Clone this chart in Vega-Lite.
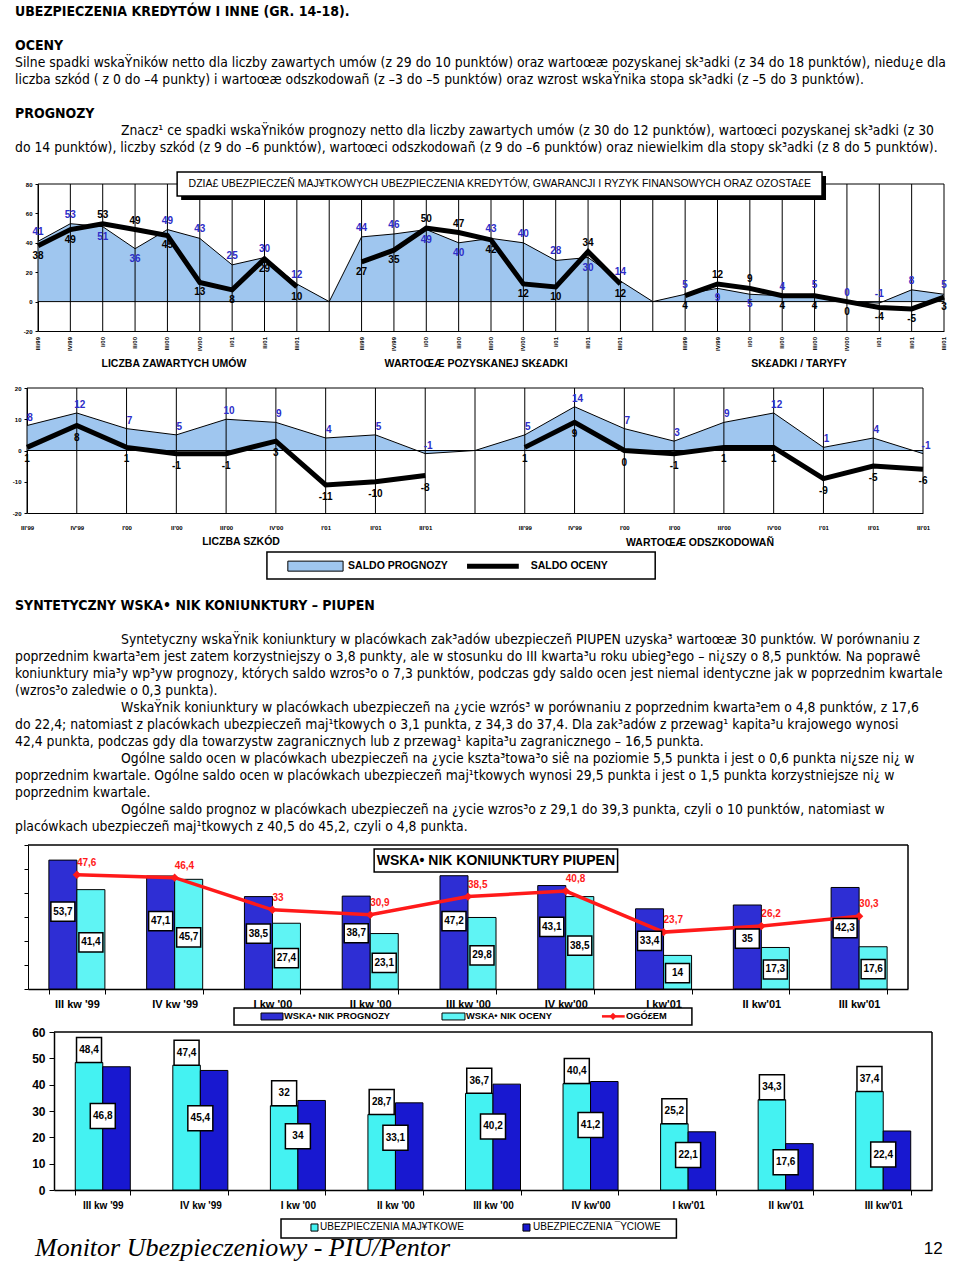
{
"$schema": "https://vega.github.io/schema/vega-lite/v6.json",
"width": 960, "height": 1266,
"autosize": {"type": "none"},
"padding": 0,
"background": "white",
"config": {
  "view": {"stroke": null},
  "font": "Liberation Sans",
  "locale": {"number": {"decimal": ",", "thousands": " ", "grouping": [3], "currency": ["", ""], "minus": "-"}},
  "axis": {"grid": false, "domainColor": "black", "tickColor": "black", "labelColor": "black", "labelFont": "Liberation Sans", "labelOverlap": false}
},
"datasets": {
  "txt": [
    {"ln":0,"ind":0,"b":true,"t":"UBEZPIECZENIA KREDYTÓW I INNE (GR. 14-18)."},
    {"ln":2,"ind":0,"b":true,"t":"OCENY"},
    {"ln":3,"ind":0,"b":false,"t":"Silne spadki wskaŸników netto dla liczby zawartych umów (z 29 do 10 punktów) oraz wartoœæ pozyskanej sk³adki (z 34 do 18 punktów), niedu¿e dla"},
    {"ln":4,"ind":0,"b":false,"t":"liczba szkód ( z 0 do –4 punkty) i wartoœæ odszkodowañ (z –3 do –5 punktów) oraz wzrost wskaŸnika stopa sk³adki (z –5 do 3 punktów)."},
    {"ln":6,"ind":0,"b":true,"t":"PROGNOZY"},
    {"ln":7,"ind":1,"b":false,"t":"Znacz¹ ce spadki wskaŸników prognozy netto dla liczby zawartych umów (z 30 do 12 punktów), wartoœci pozyskanej sk³adki (z 30"},
    {"ln":8,"ind":0,"b":false,"t":"do 14 punktów), liczby szkód (z 9 do –6 punktów), wartoœci odszkodowañ (z 9 do –6 punktów) oraz niewielkim dla stopy sk³adki (z 8 do 5 punktów)."},
    {"ln":35,"ind":0,"b":true,"t":"SYNTETYCZNY WSKA• NIK KONIUNKTURY – PIUPEN"},
    {"ln":37,"ind":1,"b":false,"t":"Syntetyczny wskaŸnik koniunktury w placówkach zak³adów ubezpieczeñ PIUPEN uzyska³ wartoœæ 30 punktów. W porównaniu z"},
    {"ln":38,"ind":0,"b":false,"t":"poprzednim kwarta³em jest zatem korzystniejszy o 3,8 punkty, ale w stosunku do III kwarta³u roku ubieg³ego – ni¿szy o 8,5 punktów. Na poprawê"},
    {"ln":39,"ind":0,"b":false,"t":"koniunktury mia³y wp³yw prognozy, których saldo wzros³o o 7,3 punktów, podczas gdy saldo ocen jest niemal identyczne jak w poprzednim kwartale"},
    {"ln":40,"ind":0,"b":false,"t":"(wzros³o zaledwie o 0,3 punkta)."},
    {"ln":41,"ind":1,"b":false,"t":"WskaŸnik koniunktury w placówkach ubezpieczeñ na ¿ycie wzrós³ w porównaniu z poprzednim kwarta³em o 4,8 punktów, z 17,6"},
    {"ln":42,"ind":0,"b":false,"t":"do 22,4; natomiast z placówkach ubezpieczeñ maj¹tkowych o 3,1 punkta, z 34,3 do 37,4. Dla zak³adów z przewag¹ kapita³u krajowego wynosi"},
    {"ln":43,"ind":0,"b":false,"t":"42,4 punkta, podczas gdy dla towarzystw zagranicznych lub z przewag¹ kapita³u zagranicznego – 16,5 punkta."},
    {"ln":44,"ind":1,"b":false,"t":"Ogólne saldo ocen w placówkach ubezpieczeñ na ¿ycie kszta³towa³o siê na poziomie 5,5 punkta i jest o 0,6 punkta ni¿sze ni¿ w"},
    {"ln":45,"ind":0,"b":false,"t":"poprzednim kwartale. Ogólne saldo ocen w placówkach ubezpieczeñ maj¹tkowych wynosi 29,5 punkta i jest o 1,5 punkta korzystniejsze ni¿ w"},
    {"ln":46,"ind":0,"b":false,"t":"poprzednim kwartale."},
    {"ln":47,"ind":1,"b":false,"t":"Ogólne saldo prognoz w placówkach ubezpieczeñ na ¿ycie wzros³o z 29,1 do 39,3 punkta, czyli o 10 punktów, natomiast w"},
    {"ln":48,"ind":0,"b":false,"t":"placówkach ubezpieczeñ maj¹tkowych z 40,5 do 45,2, czyli o 4,8 punkta."}
  ],
  "c1": [
    {"i":0,"g":1,"q":"III/99","p":41,"o":38},{"i":1,"g":1,"q":"IV/99","p":53,"o":49},{"i":2,"g":1,"q":"I/00","p":51,"o":53},{"i":3,"g":1,"q":"II/00","p":36,"o":49},{"i":4,"g":1,"q":"III/00","p":49,"o":45},{"i":5,"g":1,"q":"IV/00","p":43,"o":13},{"i":6,"g":1,"q":"I/01","p":25,"o":8},{"i":7,"g":1,"q":"II/01","p":30,"o":29},{"i":8,"g":1,"q":"III/01","p":12,"o":10},
    {"i":9,"g":0,"q":"","p":0,"o":null},
    {"i":10,"g":2,"q":"III/99","p":44,"o":27},{"i":11,"g":2,"q":"IV/99","p":46,"o":35},{"i":12,"g":2,"q":"I/00","p":49,"o":50},{"i":13,"g":2,"q":"II/00","p":40,"o":47},{"i":14,"g":2,"q":"III/00","p":43,"o":42},{"i":15,"g":2,"q":"IV/00","p":40,"o":12},{"i":16,"g":2,"q":"I/01","p":28,"o":10},{"i":17,"g":2,"q":"II/01","p":30,"o":34},{"i":18,"g":2,"q":"III/01","p":14,"o":12},
    {"i":19,"g":0,"q":"","p":0,"o":null},
    {"i":20,"g":3,"q":"III/99","p":5,"o":4},{"i":21,"g":3,"q":"IV/99","p":9,"o":12},{"i":22,"g":3,"q":"I/00","p":5,"o":9},{"i":23,"g":3,"q":"II/00","p":4,"o":4},{"i":24,"g":3,"q":"III/00","p":5,"o":4},{"i":25,"g":3,"q":"IV/00","p":0,"o":0},{"i":26,"g":3,"q":"I/01","p":-1,"o":-4},{"i":27,"g":3,"q":"II/01","p":8,"o":-5},{"i":28,"g":3,"q":"III/01","p":5,"o":3}
  ],
  "c2": [
    {"i":0,"g":1,"p":8,"o":1},{"i":1,"g":1,"p":12,"o":8},{"i":2,"g":1,"p":7,"o":1},{"i":3,"g":1,"p":5,"o":-1},{"i":4,"g":1,"p":10,"o":-1},{"i":5,"g":1,"p":9,"o":3},{"i":6,"g":1,"p":4,"o":-11},{"i":7,"g":1,"p":5,"o":-10},{"i":8,"g":1,"p":-1,"o":-8},
    {"i":9,"g":0,"p":0,"o":null},
    {"i":10,"g":2,"p":5,"o":1},{"i":11,"g":2,"p":14,"o":9},{"i":12,"g":2,"p":7,"o":0},{"i":13,"g":2,"p":3,"o":-1},{"i":14,"g":2,"p":9,"o":1},{"i":15,"g":2,"p":12,"o":1},{"i":16,"g":2,"p":1,"o":-9},{"i":17,"g":2,"p":4,"o":-5},{"i":18,"g":2,"p":-1,"o":-6}
  ],
  "k3": [
    {"q":"III kw '99","s":"prog","v":53.7},{"q":"III kw '99","s":"ocena","v":41.4},
    {"q":"IV kw '99","s":"prog","v":47.1},{"q":"IV kw '99","s":"ocena","v":45.7},
    {"q":"I kw '00","s":"prog","v":38.5},{"q":"I kw '00","s":"ocena","v":27.4},
    {"q":"II kw '00","s":"prog","v":38.7},{"q":"II kw '00","s":"ocena","v":23.1},
    {"q":"III kw '00","s":"prog","v":47.2},{"q":"III kw '00","s":"ocena","v":29.8},
    {"q":"IV kw'00","s":"prog","v":43.1},{"q":"IV kw'00","s":"ocena","v":38.5},
    {"q":"I kw'01","s":"prog","v":33.4},{"q":"I kw'01","s":"ocena","v":14},
    {"q":"II kw'01","s":"prog","v":35},{"q":"II kw'01","s":"ocena","v":17.3},
    {"q":"III kw'01","s":"prog","v":42.3},{"q":"III kw'01","s":"ocena","v":17.6}
  ],
  "k3line": [
    {"q":"III kw '99","v":47.6},{"q":"IV kw '99","v":46.4},{"q":"I kw '00","v":33},{"q":"II kw '00","v":30.9},{"q":"III kw '00","v":38.5},{"q":"IV kw'00","v":40.8},{"q":"I kw'01","v":23.7},{"q":"II kw'01","v":26.2},{"q":"III kw'01","v":30.3}
  ],
  "k4": [
    {"q":"III kw '99","s":"maj","v":48.4},{"q":"III kw '99","s":"zyc","v":46.8},
    {"q":"IV kw '99","s":"maj","v":47.4},{"q":"IV kw '99","s":"zyc","v":45.4},
    {"q":"I kw '00","s":"maj","v":32},{"q":"I kw '00","s":"zyc","v":34},
    {"q":"II kw '00","s":"maj","v":28.7},{"q":"II kw '00","s":"zyc","v":33.1},
    {"q":"III kw '00","s":"maj","v":36.7},{"q":"III kw '00","s":"zyc","v":40.2},
    {"q":"IV kw'00","s":"maj","v":40.4},{"q":"IV kw'00","s":"zyc","v":41.2},
    {"q":"I kw'01","s":"maj","v":25.2},{"q":"I kw'01","s":"zyc","v":22.1},
    {"q":"II kw'01","s":"maj","v":34.3},{"q":"II kw'01","s":"zyc","v":17.6},
    {"q":"III kw'01","s":"maj","v":37.4},{"q":"III kw'01","s":"zyc","v":22.4}
  ]
},
"layer": [
  {
    "data": {"name": "txt"},
    "encoding": {
      "x": {"field": "ind", "type": "quantitative", "scale": {"domain": [0, 1], "range": [15, 121]}, "axis": null},
      "y": {"field": "ln", "type": "quantitative", "scale": {"domain": [0, 48], "range": [12, 827]}, "axis": null},
      "text": {"field": "t"}
    },
    "layer": [
      {"transform": [{"filter": "datum.b"}], "mark": {"type": "text", "align": "left", "baseline": "middle", "font": "Liberation Sans Narrow, DejaVu Sans Condensed", "fontWeight": "bold", "fontSize": 14}},
      {"transform": [{"filter": "!datum.b"}], "mark": {"type": "text", "align": "left", "baseline": "middle", "font": "Liberation Sans Narrow, DejaVu Sans Condensed", "fontSize": 13.8}}
    ]
  },
  {
    "data": {"name": "c1"},
    "layer": [
      {
        "mark": {"type": "area", "color": "#9fc6ef", "opacity": 1, "line": {"color": "black", "strokeWidth": 1}},
        "encoding": {
          "x": {"field": "i", "type": "quantitative", "scale": {"domain": [0, 28], "range": [38, 944]},
                "axis": {"orient": "bottom", "offset": -935, "labels": false, "ticks": false, "title": null}},
          "y": {"field": "p", "type": "quantitative", "stack": null, "scale": {"domain": [-20, 80], "range": [331, 184], "nice": false, "zero": false},
                "axis": {"orient": "left", "offset": -38, "values": [-20, 0, 20, 40, 60, 80], "labelFontSize": 6, "labelFontWeight": "bold", "tickSize": 3, "labelPadding": 3, "title": null}},
          "y2": {"datum": 0}
        }
      },
      {
        "mark": {"type": "rule", "color": "black", "strokeWidth": 1},
        "encoding": {"x": {"field": "i", "type": "quantitative"}, "y": {"datum": -20}, "y2": {"datum": 80}}
      },
      {
        "transform": [{"filter": "datum.g > 0"}],
        "mark": {"type": "text", "angle": 270, "align": "right", "baseline": "middle", "fontSize": 6, "fontWeight": "bold", "dx": -6, "color": "black"},
        "encoding": {"x": {"field": "i", "type": "quantitative"}, "y": {"datum": -20}, "text": {"field": "q"}}
      },
      {
        "data": {"values": [{}]},
        "mark": {"type": "rule", "color": "black", "strokeWidth": 1},
        "encoding": {"x": {"datum": 0}, "x2": {"datum": 28}, "y": {"datum": 0}}
      },
      {
        "data": {"values": [{}]},
        "mark": {"type": "rule", "color": "black", "strokeWidth": 1},
        "encoding": {"x": {"datum": 0}, "x2": {"datum": 28}, "y": {"datum": 80}}
      },
      {
        "transform": [{"filter": "datum.g > 0"}],
        "mark": {"type": "line", "color": "black", "strokeWidth": 5},
        "encoding": {"x": {"field": "i", "type": "quantitative"}, "y": {"field": "o", "type": "quantitative"}, "detail": {"field": "g"}}
      },
      {
        "transform": [{"filter": "datum.g > 0 && datum.p >= datum.o"}],
        "mark": {"type": "text", "color": "#2d2dc8", "fontWeight": "bold", "fontSize": 10, "dy": -9},
        "encoding": {"x": {"field": "i", "type": "quantitative"}, "y": {"field": "p", "type": "quantitative"}, "text": {"field": "p", "type": "quantitative", "format": "d"}}
      },
      {
        "transform": [{"filter": "datum.g > 0 && datum.p < datum.o"}],
        "mark": {"type": "text", "color": "#2d2dc8", "fontWeight": "bold", "fontSize": 10, "dy": 10},
        "encoding": {"x": {"field": "i", "type": "quantitative"}, "y": {"field": "p", "type": "quantitative"}, "text": {"field": "p", "type": "quantitative", "format": "d"}}
      },
      {
        "transform": [{"filter": "datum.g > 0 && datum.o > datum.p"}],
        "mark": {"type": "text", "color": "black", "fontWeight": "bold", "fontSize": 10, "dy": -9},
        "encoding": {"x": {"field": "i", "type": "quantitative"}, "y": {"field": "o", "type": "quantitative"}, "text": {"field": "o", "type": "quantitative", "format": "d"}}
      },
      {
        "transform": [{"filter": "datum.g > 0 && datum.o <= datum.p"}],
        "mark": {"type": "text", "color": "black", "fontWeight": "bold", "fontSize": 10, "dy": 10},
        "encoding": {"x": {"field": "i", "type": "quantitative"}, "y": {"field": "o", "type": "quantitative"}, "text": {"field": "o", "type": "quantitative", "format": "d"}}
      },
      {
        "data": {"values": [{}]},
        "mark": {"type": "rect", "color": "black", "xOffset": 4, "x2Offset": 4, "yOffset": 4, "y2Offset": 4},
        "encoding": {"x": {"datum": 4.30}, "x2": {"datum": 24.23}, "y": {"datum": 88.2}, "y2": {"datum": 71.8}}
      },
      {
        "data": {"values": [{}]},
        "mark": {"type": "rect", "fill": "white", "stroke": "black", "strokeWidth": 1.5},
        "encoding": {"x": {"datum": 4.30}, "x2": {"datum": 24.23}, "y": {"datum": 88.2}, "y2": {"datum": 71.8}}
      },
      {
        "data": {"values": [{}]},
        "mark": {"type": "text", "fontSize": 10.5, "align": "center", "baseline": "middle", "color": "black"},
        "encoding": {"x": {"datum": 14.27}, "y": {"datum": 80}, "text": {"value": "DZIA£ UBEZPIECZEÑ MAJ¥TKOWYCH UBEZPIECZENIA KREDYTÓW, GWARANCJI I RYZYK FINANSOWYCH ORAZ OZOSTA£E"}}
      },
      {
        "data": {"values": [{}]},
        "mark": {"type": "text", "fontSize": 10.5, "fontWeight": "bold", "align": "center", "baseline": "middle", "color": "black"},
        "encoding": {"x": {"datum": 4.2}, "y": {"datum": -42.4}, "text": {"value": "LICZBA ZAWARTYCH UMÓW"}}
      },
      {
        "data": {"values": [{}]},
        "mark": {"type": "text", "fontSize": 10.5, "fontWeight": "bold", "align": "center", "baseline": "middle", "color": "black"},
        "encoding": {"x": {"datum": 13.54}, "y": {"datum": -42.4}, "text": {"value": "WARTOŒÆ POZYSKANEJ SK£ADKI"}}
      },
      {
        "data": {"values": [{}]},
        "mark": {"type": "text", "fontSize": 10.5, "fontWeight": "bold", "align": "center", "baseline": "middle", "color": "black"},
        "encoding": {"x": {"datum": 23.52}, "y": {"datum": -42.4}, "text": {"value": "SK£ADKI / TARYFY"}}
      }
    ]
  },
  {
    "data": {"name": "c2"},
    "layer": [
      {
        "mark": {"type": "area", "color": "#9fc6ef", "opacity": 1, "line": {"color": "black", "strokeWidth": 1}},
        "encoding": {
          "x": {"field": "i", "type": "quantitative", "scale": {"domain": [0, 18], "range": [27, 923]},
                "axis": {"orient": "bottom", "offset": -753, "values": [0,1,2,3,4,5,6,7,8,10,11,12,13,14,15,16,17,18],
                         "labelExpr": "[\"III'99\",\"IV'99\",\"I'00\",\"II'00\",\"III'00\",\"IV'00\",\"I'01\",\"II'01\",\"III'01\"][datum.value % 10]",
                         "labelAngle": 0, "labelFontSize": 6, "labelFontWeight": "bold", "ticks": false, "labelPadding": 11, "title": null, "labelFlush": false, "labelOverlap": false}},
          "y": {"field": "p", "type": "quantitative", "stack": null, "scale": {"domain": [-20, 20], "range": [513, 388], "nice": false, "zero": false},
                "axis": {"orient": "left", "offset": -27, "values": [-20, -10, 0, 10, 20], "labelFontSize": 6, "labelFontWeight": "bold", "tickSize": 3, "labelPadding": 3, "title": null}},
          "y2": {"datum": 0}
        }
      },
      {
        "mark": {"type": "rule", "color": "black", "strokeWidth": 1},
        "encoding": {"x": {"field": "i", "type": "quantitative"}, "y": {"datum": -20}, "y2": {"datum": 20}}
      },
      {
        "data": {"values": [{}]},
        "mark": {"type": "rule", "color": "black", "strokeWidth": 1},
        "encoding": {"x": {"datum": 0}, "x2": {"datum": 18}, "y": {"datum": 0}}
      },
      {
        "data": {"values": [{}]},
        "mark": {"type": "rule", "color": "black", "strokeWidth": 1},
        "encoding": {"x": {"datum": 0}, "x2": {"datum": 18}, "y": {"datum": 20}}
      },
      {
        "transform": [{"filter": "datum.g > 0"}],
        "mark": {"type": "line", "color": "black", "strokeWidth": 5},
        "encoding": {"x": {"field": "i", "type": "quantitative"}, "y": {"field": "o", "type": "quantitative"}, "detail": {"field": "g"}}
      },
      {
        "transform": [{"filter": "datum.g > 0"}],
        "mark": {"type": "text", "color": "#2d2dc8", "fontWeight": "bold", "fontSize": 10, "dy": -8, "dx": 3},
        "encoding": {"x": {"field": "i", "type": "quantitative"}, "y": {"field": "p", "type": "quantitative"}, "text": {"field": "p", "type": "quantitative", "format": "d"}}
      },
      {
        "transform": [{"filter": "datum.g > 0"}],
        "mark": {"type": "text", "color": "black", "fontWeight": "bold", "fontSize": 10, "dy": 12},
        "encoding": {"x": {"field": "i", "type": "quantitative"}, "y": {"field": "o", "type": "quantitative"}, "text": {"field": "o", "type": "quantitative", "format": "d"}}
      },
      {
        "data": {"values": [{}]},
        "mark": {"type": "text", "fontSize": 10.5, "fontWeight": "bold", "align": "center", "baseline": "middle", "color": "black"},
        "encoding": {"x": {"datum": 4.3}, "y": {"datum": -29.3}, "text": {"value": "LICZBA SZKÓD"}}
      },
      {
        "data": {"values": [{}]},
        "mark": {"type": "text", "fontSize": 10.5, "fontWeight": "bold", "align": "center", "baseline": "middle", "color": "black"},
        "encoding": {"x": {"datum": 13.52}, "y": {"datum": -29.6}, "text": {"value": "WARTOŒÆ ODSZKODOWAÑ"}}
      },
      {
        "data": {"values": [{}]},
        "mark": {"type": "rect", "fill": "white", "stroke": "black", "strokeWidth": 1.5},
        "encoding": {"x": {"datum": 4.82}, "x2": {"datum": 12.62}, "y": {"datum": -32.5}, "y2": {"datum": -41.1}}
      },
      {
        "data": {"values": [{}]},
        "mark": {"type": "rect", "fill": "#9fc6ef", "stroke": "black", "strokeWidth": 1},
        "encoding": {"x": {"datum": 5.24}, "x2": {"datum": 6.35}, "y": {"datum": -35.4}, "y2": {"datum": -38.6}}
      },
      {
        "data": {"values": [{}]},
        "mark": {"type": "rule", "color": "black", "strokeWidth": 5},
        "encoding": {"x": {"datum": 8.84}, "x2": {"datum": 9.88}, "y": {"datum": -37}}
      },
      {
        "data": {"values": [{}]},
        "mark": {"type": "text", "fontSize": 10.5, "fontWeight": "bold", "align": "left", "baseline": "middle", "color": "black"},
        "encoding": {"x": {"datum": 6.45}, "y": {"datum": -37}, "text": {"value": "SALDO PROGNOZY"}}
      },
      {
        "data": {"values": [{}]},
        "mark": {"type": "text", "fontSize": 10.5, "fontWeight": "bold", "align": "left", "baseline": "middle", "color": "black"},
        "encoding": {"x": {"datum": 10.12}, "y": {"datum": -37}, "text": {"value": "SALDO OCENY"}}
      }
    ]
  },
  {
    "layer": [
      {
        "data": {"name": "k3"},
        "mark": {"type": "bar", "stroke": "black", "strokeWidth": 1},
        "encoding": {
          "x": {"field": "q", "type": "nominal", "sort": null,
                "scale": {"domain": ["III kw '99","IV kw '99","I kw '00","II kw '00","III kw '00","IV kw'00","I kw'01","II kw'01","III kw'01"], "range": [28, 908], "paddingInner": 0.427, "paddingOuter": 0.2135},
                "axis": {"orient": "bottom", "offset": -277, "labelFontSize": 11, "labelFontWeight": "bold", "tickBand": "extent", "tickSize": 5, "labelPadding": 4, "labelAngle": 0, "title": null, "domainWidth": 1.5}},
          "xOffset": {"field": "s", "type": "nominal", "scale": {"domain": ["prog", "ocena"]}},
          "y": {"field": "v", "type": "quantitative", "scale": {"domain": [0, 60], "range": [989, 845], "nice": false},
                "axis": {"orient": "left", "offset": -28, "values": [0, 10, 20, 30, 40, 50, 60], "labels": false, "tickSize": 4, "title": null}},
          "color": {"field": "s", "type": "nominal", "scale": {"domain": ["prog", "ocena"], "range": ["#2e2ed4", "#5ff4f4"]}, "legend": null}
        }
      },
      {
        "data": {"name": "k3line"},
        "mark": {"type": "line", "color": "#ff1a1a", "strokeWidth": 3.5, "point": {"shape": "diamond", "size": 70, "color": "#ff1a1a", "filled": true}},
        "encoding": {"x": {"field": "q", "type": "nominal", "sort": null}, "y": {"field": "v", "type": "quantitative"}}
      },
      {
        "data": {"name": "k3line"},
        "mark": {"type": "text", "color": "#ff1a1a", "fontWeight": "bold", "fontSize": 10, "align": "left", "dy": -12},
        "encoding": {"x": {"field": "q", "type": "nominal", "sort": null}, "y": {"field": "v", "type": "quantitative"}, "text": {"field": "v", "type": "quantitative", "format": ".1~f"}}
      }
    ]
  },
  {
    "data": {"values": [{}]},
    "layer": [
      {
        "mark": {"type": "rule", "color": "black", "strokeWidth": 1.5},
        "encoding": {"x": {"datum": 0, "scale": {"domain": [0, 9], "range": [28, 908]}, "axis": null}, "x2": {"datum": 9}, "y": {"datum": 60, "scale": {"domain": [0, 60], "range": [989, 845]}, "axis": null}}
      },
      {
        "mark": {"type": "rule", "color": "black", "strokeWidth": 1.5},
        "encoding": {"x": {"datum": 9, "axis": null}, "y": {"datum": 0, "axis": null}, "y2": {"datum": 60}}
      },
      {
        "mark": {"type": "rect", "fill": "white", "stroke": "black", "strokeWidth": 1.5},
        "encoding": {"x": {"datum": 3.54, "axis": null}, "x2": {"datum": 6.03}, "y": {"datum": 58.3, "axis": null}, "y2": {"datum": 48.75}}
      },
      {
        "mark": {"type": "text", "fontSize": 14, "fontWeight": "bold", "align": "center", "baseline": "middle", "color": "black"},
        "encoding": {"x": {"datum": 4.785, "axis": null}, "y": {"datum": 53.5, "axis": null}, "text": {"value": "WSKA• NIK KONIUNKTURY PIUPEN"}}
      },
      {
        "mark": {"type": "rect", "fill": "white", "stroke": "black", "strokeWidth": 1.5},
        "encoding": {"x": {"datum": 2.107, "axis": null}, "x2": {"datum": 6.79}, "y": {"datum": -7.92, "axis": null}, "y2": {"datum": -15}}
      },
      {
        "mark": {"type": "rect", "fill": "#2e2ed4", "stroke": "black", "strokeWidth": 1},
        "encoding": {"x": {"datum": 2.383, "axis": null}, "x2": {"datum": 2.608}, "y": {"datum": -10, "axis": null}, "y2": {"datum": -12.9}}
      },
      {
        "mark": {"type": "text", "fontSize": 9.3, "fontWeight": "bold", "align": "left", "baseline": "middle", "color": "black"},
        "encoding": {"x": {"datum": 2.618, "axis": null}, "y": {"datum": -11.4, "axis": null}, "text": {"value": "WSKA• NIK PROGNOZY"}}
      },
      {
        "mark": {"type": "rect", "fill": "#5ff4f4", "stroke": "black", "strokeWidth": 1},
        "encoding": {"x": {"datum": 4.234, "axis": null}, "x2": {"datum": 4.469}, "y": {"datum": -10, "axis": null}, "y2": {"datum": -12.9}}
      },
      {
        "mark": {"type": "text", "fontSize": 9.3, "fontWeight": "bold", "align": "left", "baseline": "middle", "color": "black"},
        "encoding": {"x": {"datum": 4.479, "axis": null}, "y": {"datum": -11.4, "axis": null}, "text": {"value": "WSKA• NIK OCENY"}}
      },
      {
        "mark": {"type": "rule", "color": "#ff1a1a", "strokeWidth": 2.5},
        "encoding": {"x": {"datum": 5.87, "axis": null}, "x2": {"datum": 6.103}, "y": {"datum": -11.4, "axis": null}}
      },
      {
        "mark": {"type": "point", "shape": "diamond", "size": 50, "filled": true, "color": "#ff1a1a", "opacity": 1},
        "encoding": {"x": {"datum": 5.983, "axis": null}, "y": {"datum": -11.4, "axis": null}}
      },
      {
        "mark": {"type": "text", "fontSize": 9.3, "fontWeight": "bold", "align": "left", "baseline": "middle", "color": "black"},
        "encoding": {"x": {"datum": 6.116, "axis": null}, "y": {"datum": -11.4, "axis": null}, "text": {"value": "OGÓ£EM"}}
      }
    ]
  },
  {
    "data": {"name": "k3"},
    "transform": [{"filter": "datum.s == 'prog'"}],
    "encoding": {
      "x": {"field": "q", "type": "nominal", "sort": null, "scale": {"domain": ["III kw '99","IV kw '99","I kw '00","II kw '00","III kw '00","IV kw'00","I kw'01","II kw'01","III kw'01"], "range": [28, 908], "paddingInner": 0.427, "paddingOuter": 0.2135}, "axis": null},
      "xOffset": {"field": "s", "type": "nominal", "scale": {"domain": ["prog", "ocena"]}},
      "y": {"field": "v", "type": "quantitative", "scale": {"domain": [0, 100], "range": [989, 845], "nice": false, "zero": false}, "axis": null}
    },
    "layer": [
      {"mark": {"type": "point", "shape": "M-1,-0.8H1V0.8H-1Z", "size": 576, "filled": true, "fill": "white", "color": "white", "stroke": "black", "strokeWidth": 1.5, "opacity": 1, "fillOpacity": 1}},
      {"mark": {"type": "text", "fontWeight": "bold", "fontSize": 10, "baseline": "middle", "color": "black"}, "encoding": {"text": {"field": "v", "type": "quantitative", "format": ".1~f"}}}
    ]
  },
  {
    "data": {"name": "k3"},
    "transform": [{"filter": "datum.s == 'ocena'"}],
    "encoding": {
      "x": {"field": "q", "type": "nominal", "sort": null, "scale": {"domain": ["III kw '99","IV kw '99","I kw '00","II kw '00","III kw '00","IV kw'00","I kw'01","II kw'01","III kw'01"], "range": [28, 908], "paddingInner": 0.427, "paddingOuter": 0.2135}, "axis": null},
      "xOffset": {"field": "s", "type": "nominal", "scale": {"domain": ["prog", "ocena"]}},
      "y": {"field": "v", "type": "quantitative", "scale": {"domain": [0, 127.7], "range": [989, 845], "nice": false, "zero": false}, "axis": null}
    },
    "layer": [
      {"mark": {"type": "point", "shape": "M-1,-0.8H1V0.8H-1Z", "size": 576, "filled": true, "fill": "white", "color": "white", "stroke": "black", "strokeWidth": 1.5, "opacity": 1, "fillOpacity": 1}},
      {"mark": {"type": "text", "fontWeight": "bold", "fontSize": 10, "baseline": "middle", "color": "black"}, "encoding": {"text": {"field": "v", "type": "quantitative", "format": ".1~f"}}}
    ]
  },
  {
    "data": {"name": "k4"},
    "layer": [
      {
        "mark": {"type": "bar", "stroke": "black", "strokeWidth": 1},
        "encoding": {
          "x": {"field": "q", "type": "nominal", "sort": null,
                "scale": {"domain": ["III kw '99","IV kw '99","I kw '00","II kw '00","III kw '00","IV kw'00","I kw'01","II kw'01","III kw'01"], "range": [54, 932], "paddingInner": 0.436, "paddingOuter": 0.218},
                "axis": {"orient": "bottom", "offset": -76, "labelFontSize": 10, "labelFontWeight": "bold", "tickBand": "extent", "tickSize": 5, "labelPadding": 5, "labelAngle": 0, "title": null, "domainWidth": 1.5}},
          "xOffset": {"field": "s", "type": "nominal", "scale": {"domain": ["maj", "zyc"]}},
          "y": {"field": "v", "type": "quantitative", "scale": {"domain": [0, 60], "range": [1190, 1032], "nice": false},
                "axis": {"orient": "left", "offset": -54, "values": [0, 10, 20, 30, 40, 50, 60], "labelFontSize": 12, "labelFontWeight": "bold", "tickSize": 5, "labelPadding": 4, "title": null, "domainWidth": 1.5}},
          "color": {"field": "s", "type": "nominal", "scale": {"domain": ["maj", "zyc"], "range": ["#44f2f2", "#1818d0"]}, "legend": null}
        }
      },
      {
        "transform": [{"filter": "datum.s == 'maj'"}],
        "mark": {"type": "point", "shape": "square", "size": 625, "yOffset": -12.5, "filled": true, "fill": "white", "color": "white", "stroke": "black", "strokeWidth": 1.5, "opacity": 1, "fillOpacity": 1},
        "encoding": {"x": {"field": "q", "type": "nominal", "sort": null}, "xOffset": {"field": "s", "type": "nominal"}, "y": {"field": "v", "type": "quantitative"}}
      },
      {
        "transform": [{"filter": "datum.s == 'maj'"}],
        "mark": {"type": "text", "fontWeight": "bold", "fontSize": 10, "baseline": "middle", "dy": -12.5, "color": "black"},
        "encoding": {"x": {"field": "q", "type": "nominal", "sort": null}, "xOffset": {"field": "s", "type": "nominal"}, "y": {"field": "v", "type": "quantitative"}, "text": {"field": "v", "type": "quantitative", "format": ".1~f"}}
      }
    ]
  },
  {
    "data": {"name": "k4"},
    "transform": [{"filter": "datum.s == 'zyc'"}],
    "encoding": {
      "x": {"field": "q", "type": "nominal", "sort": null, "bandPosition": 0.95, "scale": {"domain": ["III kw '99","IV kw '99","I kw '00","II kw '00","III kw '00","IV kw'00","I kw'01","II kw'01","III kw'01"], "range": [54, 932], "paddingInner": 0.436, "paddingOuter": 0.218}, "axis": null},
      "y": {"field": "v", "type": "quantitative", "scale": {"domain": [0, 100], "range": [1190, 1032], "nice": false, "zero": false}, "axis": null}
    },
    "layer": [
      {"mark": {"type": "point", "shape": "square", "size": 625, "filled": true, "fill": "white", "color": "white", "stroke": "black", "strokeWidth": 1.5, "opacity": 1, "fillOpacity": 1}},
      {"mark": {"type": "text", "fontWeight": "bold", "fontSize": 10, "baseline": "middle", "color": "black"}, "encoding": {"text": {"field": "v", "type": "quantitative", "format": ".1~f"}}}
    ]
  },
  {
    "data": {"values": [{}]},
    "layer": [
      {
        "mark": {"type": "rule", "color": "black", "strokeWidth": 1.5},
        "encoding": {"x": {"datum": 0, "scale": {"domain": [0, 9], "range": [54, 932]}, "axis": null}, "x2": {"datum": 9}, "y": {"datum": 60, "scale": {"domain": [0, 60], "range": [1190, 1032]}, "axis": null}}
      },
      {
        "mark": {"type": "rule", "color": "black", "strokeWidth": 1.5},
        "encoding": {"x": {"datum": 9, "axis": null}, "y": {"datum": 0, "axis": null}, "y2": {"datum": 60}}
      },
      {
        "mark": {"type": "rect", "fill": "white", "stroke": "black", "strokeWidth": 1.5},
        "encoding": {"x": {"datum": 2.327, "axis": null}, "x2": {"datum": 6.38}, "y": {"datum": -11.0, "axis": null}, "y2": {"datum": -18.2}}
      },
      {
        "mark": {"type": "rect", "fill": "#44f2f2", "stroke": "black", "strokeWidth": 1},
        "encoding": {"x": {"datum": 2.634, "axis": null}, "x2": {"datum": 2.706}, "y": {"datum": -12.9, "axis": null}, "y2": {"datum": -15.6}}
      },
      {
        "mark": {"type": "text", "fontSize": 10, "align": "left", "baseline": "middle", "color": "black"},
        "encoding": {"x": {"datum": 2.727, "axis": null}, "y": {"datum": -14.1, "axis": null}, "text": {"value": "UBEZPIECZENIA MAJ¥TKOWE"}}
      },
      {
        "mark": {"type": "rect", "fill": "#1818d0", "stroke": "black", "strokeWidth": 1},
        "encoding": {"x": {"datum": 4.807, "axis": null}, "x2": {"datum": 4.879}, "y": {"datum": -12.9, "axis": null}, "y2": {"datum": -15.6}}
      },
      {
        "mark": {"type": "text", "fontSize": 10, "align": "left", "baseline": "middle", "color": "black"},
        "encoding": {"x": {"datum": 4.91, "axis": null}, "y": {"datum": -14.1, "axis": null}, "text": {"value": "UBEZPIECZENIA ¯YCIOWE"}}
      },
      {
        "mark": {"type": "text", "fontSize": 26, "font": "Liberation Serif", "fontStyle": "italic", "align": "left", "baseline": "alphabetic", "color": "black"},
        "encoding": {"x": {"datum": -0.195, "axis": null}, "y": {"datum": -25.07, "axis": null}, "text": {"value": "Monitor Ubezpieczeniowy - PIU/Pentor"}}
      },
      {
        "mark": {"type": "text", "fontSize": 17, "align": "right", "baseline": "middle", "color": "black"},
        "encoding": {"x": {"datum": 9.11, "axis": null}, "y": {"datum": -22.4, "axis": null}, "text": {"value": "12"}}
      }
    ]
  }
],
"resolve": {"scale": {"x": "independent", "y": "independent", "xOffset": "independent", "color": "independent"}}
}
